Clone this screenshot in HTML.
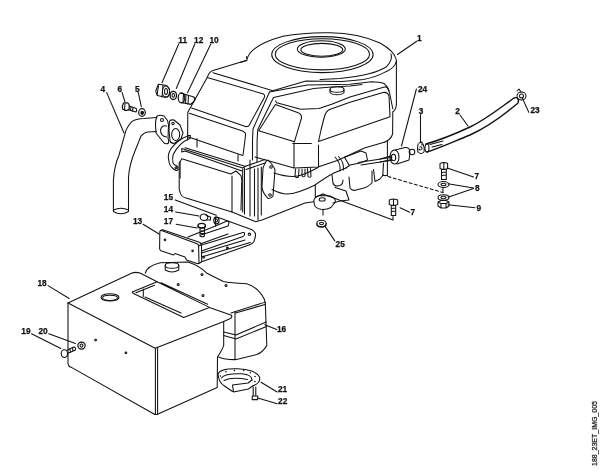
<!DOCTYPE html>
<html><head><meta charset="utf-8"><style>
html,body{margin:0;padding:0;background:#fff;}
svg{display:block;will-change:transform;}
text{font-family:"Liberation Sans",sans-serif;font-weight:bold;font-size:8.3px;fill:#111;stroke:#111;stroke-width:0.25;}
</style></head><body>
<svg width="600" height="473" viewBox="0 0 600 473">
<g fill="none" stroke="#111" stroke-width="1.05" stroke-linejoin="round" stroke-linecap="round">
<!-- leaders -->
<path d="M178.7 44 L162 82.7 M194.8 44 L176.3 88.5 M210.8 44 L187.5 92.7 M106.7 92.6 L124 133 M122.1 92.6 L125 102 M138.3 92.6 L141.3 106.7"/>
<path d="M416.7 41.3 L397.5 54.5 M416.4 89 L401.5 146 M420.5 114.5 L420.5 142 M460 115 L468 126 M528.75 112.25 L522 97.4"/>
<path d="M473.5 177 L447.2 168 M473.5 188 L448 183.7 M473.5 188.5 L448 197.2 M475 207.7 L448 204.7 M409.7 212.2 L400 207.7"/>
<path d="M175.2 199.9 L216.3 215.3 M175.7 211.9 L199 216 M176.2 224.2 L197.2 227.9 M143.1 224.2 L159 234"/>
<path d="M48 285.6 L69.2 298.5 M31.5 333.8 L60.8 348.5 M48.8 333.8 L75.4 343.6"/>
<path d="M276.7 329.5 L264.8 324.8 M277.2 392 L261 382.3 M277.2 403.8 L257.7 398"/>
</g>

<g id="engine" fill="none" stroke="#111" stroke-width="1.05" stroke-linejoin="round" stroke-linecap="round">
<!-- lid -->
<path d="M240 62.5 L247 60.5 L246.5 56.5 M247 59.5 C249 50, 262 42, 283 36.2 C300 33, 318 32.5, 330 32.7 C350 33, 366 36.5, 380 43 C390 48.5, 395 54, 396.4 60 L396.4 104.4 Q396 110 392.8 111.8 L392.6 134 Q391 139.5 385 142"/>
<path d="M391 54 C392 57, 392 61, 386.5 66.7 C382 69.5, 376 72, 369 73.7 C360 76, 350 77.5, 340 78.4 L320 79.5"/>
<ellipse cx="322.4" cy="54.6" rx="50.7" ry="18"/>
<ellipse cx="322.4" cy="54.3" rx="47.2" ry="15.6"/>
<ellipse cx="321.3" cy="49" rx="24" ry="8.3"/>
<ellipse cx="321.8" cy="49.8" rx="21" ry="6.4"/>
<!-- shroud left -->
<path d="M246 60.5 L213 70.6 Q209 72 207.5 76.9 L187.8 112.2 L187.6 140"/>
<path d="M213 72.7 L272.7 90.7 L306 81 L342 81.5 C350 81, 356 80.5, 363.3 79.5 C372 78, 380 75, 386.5 71.4 C392 69, 395.5 66, 396.4 61"/>
<path d="M269.5 92 L307.3 85 L350 84.3 L371.4 81.8 Q380 81.8 383.9 83.5 Q388 86 389.8 94 L392.8 108.8"/>
<path d="M273.5 97.5 L313.7 88.5 L331.7 87 L350 86 L362 84.5"/>
<path d="M207.2 77.5 L262.8 93.8 Q265.5 95 264.3 97.5 L249.3 125.1 Q248 127 245.5 126.5 L191.6 108"/>
<path d="M189.4 113.3 L242.5 131 Q246 132.5 245.5 135 L245 140 L243 155"/>
<path d="M269.5 92 L253 129 L252.5 140 L252.5 160 M273.5 97.5 L257.8 129.5 L257.1 140 L257 162"/>
<path d="M275.5 101 L276.7 102.7 L300.7 109.3 L319 108.5 L331.7 104.3 L350 97 L385.3 86.8 Q388 87.5 389 91"/>
<!-- middle panel -->
<path d="M275.4 104.5 L297.5 112.4 Q302 114 301.5 118 L294.4 141.8 L258.7 130.7 L275.4 104.5"/>

<!-- right panel -->
<path d="M329.6 109.6 L350 102.2 L383 92.5 C386 92, 388 93, 389 96 L390 116.7 L318.5 141.5 L321 130 L324.3 117 Q326 111 329.6 109.6"/>


<!-- oil cap -->
<ellipse cx="337" cy="89.5" rx="7" ry="2.8"/><path d="M330 89.5 L330 92.5 C332 95.5, 342 95.5, 344 92.5 L344 89.5"/>
<!-- carb / lower left -->
<path d="M188.5 137 L242.7 155.4 M197 138.5 L197 147 M238 155 L238 161"/>
<path d="M181.8 148.6 L242.7 168 L246 166 M185 147.8 L244 166 M185 151 L242 171 M181.8 148.6 L181.8 152 L185 151"/>
<path d="M181.8 158.8 L230.8 174 L236 171 L241 175.7 L241.8 180 L241 210 M181.8 158.8 L179.2 163 L179.2 189.2 L180 192 Q181 197 186 198 L232 212 L232 176"/>
<path d="M242.7 169 L242.7 212 M244.5 168 L244.5 214 M246 166 L265 159.6 M246 169.5 L265 163"/>
<path d="M250 160 L250 216 M254.5 169 L254.5 216 M258 168 L258 220 M261.3 167 L261.3 215"/>
<path d="M232 212 L242.3 216.3 L255.7 221.7 L262 220 L305 203 L313.8 201.7"/>
</g>
<g id="right" fill="none" stroke="#111" stroke-width="1.05" stroke-linejoin="round" stroke-linecap="round">
<!-- lower engine block -->
<path d="M255 157 L294 168 L318 167 L338 160.3 L364.4 148 L385 142 M294 143 L294 168 M318.5 145 L318.5 167"/>
<path d="M292.7 143.5 L311.3 143.5"/>
<path d="M263 168 Q266 160 268 160 Q274 166 275 170 L273 196 Q271 199 268 198.5 Q262 192 262 187 Z"/>
<circle cx="271" cy="167" r="1.3"/><circle cx="270" cy="195" r="1.3"/>
<path d="M274 173 C280 175, 287 176.5, 293 176.5 C300 176.5, 310 172, 318 167.5"/>
<path d="M272 189.5 C277 192, 281 194, 287 194 C295 194, 305 190, 315 185 C322 180, 328 176, 334 173 L346 168"/>
<path d="M335 157 Q341 163 340 171 M338.5 156.5 Q344 162 343.5 170 M344.5 157.2 L361 151 L366 153 L367.5 160 L360 163 L350 165 L346 168 M344.5 157.2 L349 165"/>
<path d="M358.3 162.6 L392 157.2 M361 165 L392 160.3"/>
<path d="M295.5 169 L295 176.5 Q296.5 178.5 298.5 177 L299 169 M302 169 L302 176 Q303.5 177.5 305 176 L305 169 M307.5 168.5 L308 176.5 Q309.5 178 311 176.5 L310.5 168.5"/>
<path d="M332 175 L333 183 Q334 186 337 186 L340 185.5 Q343 184 343 180"/>
<path d="M349 177 L350 188 Q352 191 355.2 190.2 L364 188 Q368 187 372 183 L372 171"/>
<path d="M373.5 169.5 L375 181.5 L380 179 L382.8 175.5 L383.5 163"/>
<path d="M335 187.5 L346 191 L349 200 L340 201 L333 203 M315.3 185 L315.3 197 L323 194"/>
<path d="M387.4 141 L387.4 175.5 L382.8 175.5"/>
<path d="M313.8 201 Q314 197 320 195.5 L330 196 Q336 198 335.3 202 L331 207.5 Q326 210 321 209.3 Q315 208 314.5 205 Z"/>
<ellipse cx="322.2" cy="199.4" rx="3" ry="1.7"/>
<path d="M323 209.3 L323 215"/>
<!-- washer 25 -->
<ellipse cx="321.5" cy="223.5" rx="4.7" ry="3.2"/><ellipse cx="321.5" cy="223.5" rx="2" ry="1.3"/>
<path d="M317 223.5 L317 225.5 Q321.5 229 326 225.5 L326 223.5"/>
<path d="M325.3 226.6 L334.8 240.9"/>
<!-- dashed line -->
<path d="M382.7 175 L442.9 192.5" stroke-dasharray="3 2.5"/><path d="M442.9 188.5 L442.9 192.5"/>
<path d="M323 194 L393 220 L393 216.5"/>
<!-- fuel filter 24 -->
<path d="M380 159 L391 156 M380 162 L392 159.5"/>
<ellipse cx="394.5" cy="157" rx="4.5" ry="7"/>
<ellipse cx="393.5" cy="157.5" rx="2.2" ry="3.3"/>
<path d="M395 150 L405 147.5 Q410 147 410 153 L409 160 L397 164"/>
<circle cx="412" cy="152" r="2.8"/>
<!-- clamp 3 -->
<path d="M418 144 Q417 149 418 152 Q421 155 424 152 Q425 148 423 144 M419 143 L422 142 L422 145 M420 147 Q422 146 422 149 Q420 151 419 149"/>
<!-- hose 2 -->
<path d="M426 144 C440 140, 455 134, 470 127 C485 120, 500 108, 514 98 Q518 96.5 518.5 101 L518 103 C505 114, 485 128, 470 135 C455 141, 440 148, 427 152" stroke-width="1.4"/>
<ellipse cx="427" cy="148" rx="2" ry="4"/>
<path d="M430 144.5 L443 141 M432 147 L442 144.5"/>
<!-- clip 23 -->
<ellipse cx="521.5" cy="96" rx="4.5" ry="4"/><ellipse cx="521.5" cy="96" rx="2" ry="2"/><path d="M517 91 L519 89 L521 92"/>
<!-- bolt 7 upper -->
<path d="M440 163.5 Q443.8 161.5 447.6 163.5 L447.6 168.5 Q443.8 170.3 440 168.5 Z M443.8 162.5 L443.8 169.5 M441.5 169.5 L441.5 179.5 L446.3 179.5 L446.3 169.5 M441.5 172.5 L446.3 172 M441.5 175.5 L446.3 175"/>
<!-- washer 8 -->
<ellipse cx="443.5" cy="184.5" rx="5.5" ry="3"/><ellipse cx="443.5" cy="184.5" rx="2.5" ry="1.2"/>
<ellipse cx="443.5" cy="197.5" rx="5.5" ry="2.7"/><ellipse cx="443.5" cy="197.5" rx="2.5" ry="1.2"/>
<!-- nut 9 -->
<path d="M438 202 L441 200.5 L446 200.5 L449 202 L449 206 L446 208 L441 208 L438 206 Z M438 202 L441 203.5 L446 203.5 L449 202 M441 203.5 L441 208 M446 203.5 L446 208"/>
<!-- bolt 7 lower -->
<path d="M389.3 200 Q393.5 198 397.7 200 L397.7 204.5 Q393.5 206.3 389.3 204.5 Z M393.5 198.8 L393.5 205.8 M391.3 205.5 L391.3 215.5 L395.7 215.5 L395.7 205.5 M391.3 208.5 L395.7 208 M391.3 211.5 L395.7 211"/>
</g>
<g id="left" fill="none" stroke="#111" stroke-width="1.05" stroke-linejoin="round" stroke-linecap="round">
<!-- nut 11 -->
<path d="M158.3 84.3 L166.7 85.6 Q169.6 88.5 169.6 91 L169.2 95 Q168 97.5 164.6 97.3 L157.5 95.6 Q155.8 92.5 155.8 91 Z"/>
<ellipse cx="166" cy="91.5" rx="3.6" ry="5.6"/>
<path d="M163 85 L162 97 M158.5 86 L157 95"/><ellipse cx="166" cy="91.5" rx="1.5" ry="3"/>
<!-- washer 12 -->
<ellipse cx="173.3" cy="95.4" rx="3.2" ry="4.1" stroke-width="1.3"/><ellipse cx="173.3" cy="95.4" rx="1.2" ry="1.9"/>
<!-- fitting 10 -->
<path d="M181 93 L193.8 97 Q196 99 194 101.5 L190.8 104.3 L181.5 102.5" stroke-width="1.2"/>
<ellipse cx="181.5" cy="97.8" rx="3.3" ry="5" stroke-width="1.2"/>
<path d="M183.5 93.5 L183 103 M186 94.5 L185.5 103.5 M188.5 95.5 L188 104"/>
<!-- bolt 6 -->
<path d="M123.5 103 L127.5 102.8 Q129.5 104 129.3 106 L129 109.5 Q127.5 110.8 125 110.3 L122.6 109 Q121.8 106 123.5 103 Z" stroke-width="1.2"/>
<path d="M125 103.5 L124.5 110 M129.2 106 L136.3 108.6 Q137 110.5 136 112 L129 110"/>
<path d="M131 107 L130.5 110.5 M133 107.8 L132.5 111.2"/>
<!-- washer 5 -->
<ellipse cx="142" cy="112.5" rx="3.3" ry="3.8" stroke-width="1.2"/><ellipse cx="142.2" cy="112.8" rx="1.3" ry="1.6" fill="#1a1a1a"/>
<!-- pipe 4 -->
<path d="M113.4 210 L113.4 180.3 C114 170, 116 162, 118.9 155.5 L125.8 130.8 C128 126, 130 123, 132.6 121.1 C136 119, 140 118.4, 143.6 118.4 L157 117.5"/>
<path d="M128.5 210 L128.5 177.5 C129 168, 132 158, 135.4 150 L140.9 136.3 C143 133.5, 145 132.5, 147.8 132.1 L156.5 131.5"/>
<path d="M113.4 210 Q121 206.5 128.5 210 M113.4 210 L113.4 211.5 Q121 216 128.5 211.5 L128.5 210"/>
<!-- flange 1 -->
<path d="M157 116 Q160 114.5 164 116 L167.5 120.5 L168.5 125 L168 138 Q169 141 168.5 143 Q166.5 144.5 164 143 L156 133 L155.5 125 Q155.5 119 157 116 Z"/>
<circle cx="162" cy="120" r="1.5"/>
<path d="M166.5 126 Q162 124.5 160.5 130 Q160.5 136 166.5 137"/>
<!-- flange 2 -->
<path d="M169.5 121 Q171 119.5 174 120 L180 125 L183 133 L181 139 L174 143.5 Q170.5 143 170 141 L169 130 Z"/>
<circle cx="173" cy="123.5" r="1.2"/>
<ellipse cx="175.7" cy="134.5" rx="4" ry="6"/>
<!-- gasket ring -->
<path d="M188.6 135.4 C182 138, 175 143, 170.6 149.2 C168.5 153, 168 156, 168.5 158.7 C169 163, 170 166, 171.6 167.2 Q173.5 169.5 175.9 170.3"/>
<path d="M189.6 138.6 C184 141, 177 147, 173.2 154.5 C172.5 157, 172.5 160, 173 163 Q174 165 175.9 165.5"/>
<path d="M175.9 165.5 Q178.5 166.5 178 169 Q177.5 171 175.9 170.3 M188.6 135.4 L190.5 135.4 L190 138.5"/>
<circle cx="176" cy="167.8" r="0.9"/>
<!-- carb plate near ring -->
<path d="M180.1 162 L180.1 178"/>
</g>
<g id="bottom" fill="none" stroke="#111" stroke-width="1.05" stroke-linejoin="round" stroke-linecap="round">
<!-- bracket 13 -->
<path d="M161.5 230.5 L197 243.8 Q198.5 244.5 198.6 246 L199 262.5 Q198.8 264 197 263.5 L186.5 260 L185 257 L175 253.5 L173.5 255 L161 250.8 Q159.6 250 159.6 248.5 L159.8 232 Q160 230 161.5 230.5 Z"/>
<path d="M162 229.5 L200 242.5 Q201.5 243.5 201.5 245 L201.7 261.8 L199 263.5 M198.6 246 L201.5 245"/>
<circle cx="165" cy="239.8" r="0.8"/><circle cx="192.6" cy="250.8" r="0.8"/>
<path d="M188 237 L215.5 226 L215.5 217 L219 217.8 L252 229.7 Q256 232 255.5 236 L254 241.5 Q252 244.5 249 245 L201.7 261.8"/>
<path d="M201.5 245 L243 232.5 Q245 232 244.5 235 L243 236.5 L201.5 251"/>
<path d="M201.5 253 L245 240 M201.5 257 L250.3 242.5"/>
<path d="M215.5 226 L227 221 Q229 221 229 223 L228 226 L201 235 M200 244 L228 234"/>
<circle cx="249.4" cy="234.3" r="1.2"/><circle cx="227.4" cy="248" r="0.9"/><circle cx="203.6" cy="257.2" r="0.9"/>
<!-- bolt 14 -->
<ellipse cx="204" cy="217.3" rx="3.8" ry="3.3" stroke-width="1.2"/><path d="M206 215.5 L210.5 217 L210.5 220 L206.5 220"/>
<!-- washer 15 -->
<ellipse cx="216.4" cy="220.5" rx="2.6" ry="3.4" stroke-width="1.2"/><ellipse cx="216.4" cy="220.5" rx="1" ry="1.5"/>
<!-- bolt 17 -->
<ellipse cx="201.7" cy="225.6" rx="3.7" ry="2.2" stroke-width="1.2"/><path d="M198 225.6 L198 227 Q201.7 229.5 205.4 227 L205.4 225.6 M200 228.3 L200 236 Q202.2 237.5 204.5 236 L204.5 228.3 M200 231 L204.5 231 M200 233.5 L204.5 233.5"/>
<!-- tank 18 -->
<path d="M68 303 L132 273 Q135.5 271.8 140 273 L157.1 281.8 L132.3 291.9 Q132 292.8 133.5 293.5 L183.7 317.5 L209.4 307.4"/>
<path d="M154.5 285.3 L136 292.8 M143.3 289 L143.3 296.5 M145 297 L181 313"/>
<path d="M157.1 281.8 L209.4 307.4 L231.5 315.3 Q232.5 317.5 230.5 318.5 L223.7 321.6 L155.2 348.2 L68 303 M161 282.8 L207.6 304.3"/>
<path d="M68 303 L68 363.4 Q68.5 367 71.9 367.6 L154 414 Q155.5 415 157.5 414.3"/>
<path d="M155.4 348.2 L155.4 414 M157.6 347.3 L157.6 414.3 M223.7 321.6 L223.7 345.6 Q222 350 220 353 L217.5 357 L217.2 387.5 L157.5 414.3"/>
<ellipse cx="110" cy="297.4" rx="9" ry="3.6"/><ellipse cx="110" cy="297.8" rx="7.5" ry="2.6"/>
<circle cx="95.6" cy="340.1" r="0.9"/><circle cx="125.9" cy="352.8" r="0.9"/>
<!-- muffler 16 -->
<path d="M145.2 273.3 Q147 266 160.3 262.8 L188 262 Q200 266 207 273.3 L223.3 281.5 Q230 283 246.7 283.8 Q258 287 264.2 299 L265.3 303 L266.8 345.6 Q262 353 256.7 354.5 L236.4 359.6 Q226 360 218.6 357"/>
<path d="M231 313 L259.2 304 Q263 302.5 265.3 302.5 M235.5 313 L265 304.5"/>
<path d="M223.7 332 L236 335 L266 322 M223.7 335.5 L236 339 L266.5 326.5"/>
<path d="M235 312 L235 359.6"/>
<circle cx="178.2" cy="284.5" r="1"/><circle cx="202" cy="274.4" r="1"/><circle cx="226" cy="285.4" r="1"/><circle cx="203" cy="295.5" r="1"/>
<circle cx="178" cy="284" r="0"/>
<!-- fuel cap -->
<ellipse cx="172" cy="265.5" rx="6.8" ry="2.8"/><path d="M165.2 265.5 L165.2 270 Q172 274 178.8 270 L178.8 265.5"/>
<!-- gasket 21 -->
<path d="M218 374 C220 369, 228 368.5, 238 368.8 C248 369, 257 372, 259.5 377 C260.5 381, 258 384, 253 385.8"/>
<path d="M221.5 378 C224 374, 232 373.5, 242 373.8 C250 374.5, 252 377, 252 380"/>
<path d="M224 380.5 C230 377.5, 237 377.5, 247.5 379.5"/>
<path d="M218 374 C218.5 380, 221 384, 224.5 386 L232.5 391.5"/>
<path d="M232.5 385 L233.5 391.9 L248.5 389 L253 385.8 M232.5 385 L248 383 L252 380"/>
<g fill="#1a1a1a" stroke="none"><circle cx="220.4" cy="376" r="0.8"/><circle cx="226" cy="371.8" r="0.8"/><circle cx="234.4" cy="370.4" r="0.8"/><circle cx="243.7" cy="370.4" r="0.8"/><circle cx="250.3" cy="372.7" r="0.8"/><circle cx="255" cy="376.5" r="0.8"/><circle cx="255" cy="381.6" r="0.8"/></g>
<!-- screw 22 -->
<path d="M253.2 387 L253.2 396 M255.8 387 L255.8 396 M252.2 396 L257.7 396 L257.7 399.6 L252.2 399.6 Z"/>
<!-- bolt 19 -->
<ellipse cx="64.4" cy="353.6" rx="3.2" ry="3.9" stroke-width="1.1"/>
<path d="M67.5 350 L73.7 347.1 Q76 347 75.4 350 L67.5 353.5 M70 349 L70.5 352.5 M72.5 348 L73 351.2"/>
<!-- washer 20 -->
<ellipse cx="81.5" cy="345.6" rx="3.7" ry="3.5" stroke-width="1.2"/><ellipse cx="81.5" cy="345.6" rx="1.5" ry="1.6"/>
</g>
<g>
<text x="178.3" y="43.2">11</text><text x="194.1" y="43.2">12</text><text x="209.5" y="43.2">10</text>
<text x="100.5" y="91.9">4</text><text x="117.6" y="91.9">6</text><text x="134.9" y="91.9">5</text>
<text x="417.1" y="41.2">1</text><text x="417.9" y="91.6">24</text><text x="418.7" y="113.9">3</text>
<text x="455.2" y="114.2">2</text><text x="530.5" y="112.9">23</text>
<text x="474.4" y="178.5">7</text><text x="475.1" y="190.8">8</text><text x="476.4" y="210.6">9</text><text x="410.6" y="214.9">7</text>
<text x="163.8" y="199.5">15</text><text x="163.8" y="211.7">14</text><text x="163.8" y="224.2">17</text><text x="132.9" y="224.2">13</text>
<text x="37.5" y="285.9">18</text><text x="21.3" y="334.3">19</text><text x="38.5" y="334.3">20</text>
<text x="276.9" y="331.6">16</text><text x="277.9" y="392.3">21</text><text x="278.1" y="403.9">22</text><text x="335.6" y="247.1">25</text><text transform="translate(597.2 466) rotate(-90)" style="font-weight:normal;font-size:7px;fill:#222;stroke:#222;stroke-width:0.25">188_23ET_IMG_005</text>
</g>
</svg>
</body></html>
